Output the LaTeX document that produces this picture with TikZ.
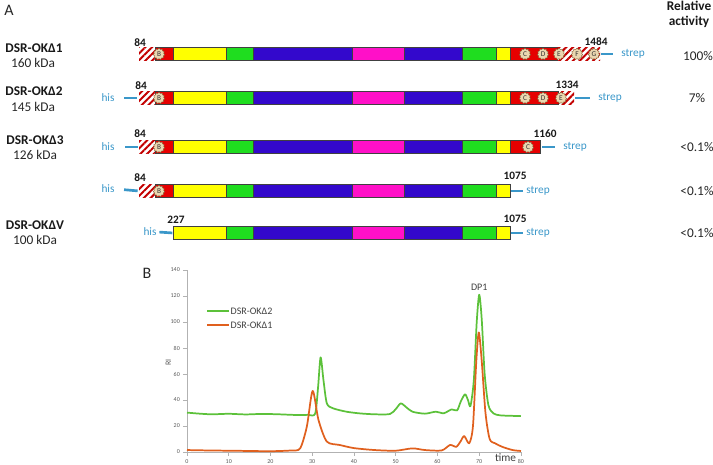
\documentclass[tikz,border=0pt]{standalone}
\usepackage{fontspec}
\setmainfont{Carlito}
\usetikzlibrary{patterns.meta,shapes.geometric,calc}
\definecolor{dred}{HTML}{E60000}
\definecolor{dyel}{HTML}{FFFF00}
\definecolor{dgrn}{HTML}{1FDD1F}
\definecolor{dblu}{HTML}{3308CC}
\definecolor{dmag}{HTML}{FF10C8}
\definecolor{tagblue}{HTML}{3A97C9}
\definecolor{cogfill}{HTML}{EAD7B0}
\definecolor{crvgrn}{HTML}{5CC13A}
\definecolor{crvorg}{HTML}{E0601E}
\tikzset{
  seg/.style   ={draw=black!75,line width=.5pt},
  hatch/.style ={pattern={Lines[angle=45,distance=3.6pt,line width=1.5pt]},
                 pattern color=dred!85!black},
  cog/.style   ={star,star points=11,star point ratio=1.22,minimum size=8.6pt,
                 inner sep=0pt,fill=cogfill,draw=brown!70!black,line width=.3pt,
                 font=\fontsize{5.5}{6}\selectfont,text=black!80},
  tag/.style   ={draw=tagblue,line width=2pt},
  tagtxt/.style={text=tagblue,font=\fontsize{8.5}{10}\selectfont,inner sep=1pt},
  cname/.style ={font=\fontsize{10}{12}\selectfont\bfseries,text=black!90},
  kda/.style   ={font=\fontsize{10}{12}\selectfont,text=black!85},
  posnum/.style={font=\fontsize{8.5}{10}\selectfont\bfseries,text=black!90,inner sep=1pt},
  act/.style   ={font=\fontsize{10}{12}\selectfont,text=black!85},
  panel/.style ={font=\fontsize{12}{14}\selectfont,text=black!85},
  tick/.style  ={font=\fontsize{4.5}{5}\selectfont,text=black!65,inner sep=.5pt},
  leg/.style   ={font=\fontsize{7.5}{9}\selectfont,text=black!75,inner sep=1pt},
  axis/.style  ={draw=black!30,line width=.4pt},
  cg/.style    ={draw=crvgrn,line width=1.3pt,line join=round},
  co/.style    ={draw=crvorg,line width=1.3pt,line join=round},
}

\begin{document}
\begin{tikzpicture}[x=0.75pt,y=-0.75pt]
  \useasboundingbox (0,0) rectangle (713,464);

  % panel A
  \node[panel] (pA) at (9,10) {A};
  \node[cname,align=center,font=\fontsize{10}{11.3}\selectfont\bfseries] (ra) at (689,14) {Relative\\activity};

  \node[cname] (n1) at (34,48) {DSR-OKΔ1};  \node[kda] (k1) at (33,63) {160 kDa};
  \node[cname] (n2) at (34,91) {DSR-OKΔ2};  \node[kda] (k2) at (33,107) {145 kDa};
  \node[cname] (n3) at (35,140) {DSR-OKΔ3}; \node[kda] (k3) at (35,155) {126 kDa};
  \node[cname] (n5) at (35,225) {DSR-OKΔV}; \node[kda] (k5) at (35,240) {100 kDa};

  % common catalytic core
  \foreach \yy in {54,98,147,191,233}
    \foreach \a/\b/\c in {173/226/dyel,226/253/dgrn,253/352/dblu,352/404/dmag,
                          404/462/dblu,462/496/dgrn,496/510/dyel}
      \draw[seg,fill=\c] (\a,\yy-6.5) rectangle (\b,\yy+6.5);

  % N-terminal part
  \foreach \yy [count=\i] in {54,98,147,191} {
    \fill[hatch] (139,\yy-6.5) rectangle (155,\yy+6.5);
    \draw[seg,fill=dred] (155,\yy-6.5) rectangle (173,\yy+6.5);
    \node[cog] (b\i) at (159,\yy) {B};
    \coordinate (l\i) at (139,\yy);
  }
  \coordinate (l5) at (173,233);

  % C-terminal parts
  \draw[seg,fill=dred] (510,47.5) rectangle (557,60.5);
  \fill[hatch] (557,47.5) rectangle (600,60.5);
  \draw[seg,fill=dred] (510,91.5) rectangle (558,104.5);
  \fill[hatch] (558,91.5) rectangle (574,104.5);
  \draw[seg,fill=dred] (510,140.5) rectangle (540,153.5);
  \node[cog] (c1) at (525,54) {C}; \node[cog] (d1) at (543,54) {D};
  \node[cog] (e1) at (559,54) {E}; \node[cog] (f1) at (577,54) {F};
  \node[cog] (g1) at (594,54) {G};
  \node[cog] (c2) at (525,98) {C}; \node[cog] (d2) at (543,98) {D};
  \node[cog] (e2) at (561,98) {E};
  \node[cog] (c3) at (528,147) {C};
  \coordinate (r1) at (600,54);  \coordinate (r2) at (574,98);
  \coordinate (r3) at (540,147); \coordinate (r4) at (510,191);
  \coordinate (r5) at (510,233);

  % positions
  \node[posnum] (p1) at (140,43) {84};   \node[posnum] (q1) at (596,42) {1484};
  \node[posnum] (p2) at (141,86) {84};   \node[posnum] (q2) at (567,85) {1334};
  \node[posnum] (p3) at (140,134) {84};  \node[posnum] (q3) at (545,134) {1160};
  \node[posnum] (p4) at (140,178) {84};  \node[posnum] (q4) at (515,176) {1075};
  \node[posnum] (p5) at (176,220) {227}; \node[posnum] (q5) at (515,219) {1075};

  % tags
  \node[tagtxt] (h2) at (108,98) {his};
  \node[tagtxt] (h3) at (108,147) {his};
  \node[tagtxt] (h4) at (108,189) {his};
  \node[tagtxt] (h5) at (150,232) {his};
  \draw[tag,shorten <=6pt,shorten >=1.5pt] (h2.east) -- (l2);
  \draw[tag,shorten <=7pt,shorten >=1pt] (h3.east) -- (l3);
  \draw[tag,shorten <=6pt,shorten >=1pt] (h4.east) -- (l4);
  \draw[tag,shorten <=1pt,shorten >=.5pt] (h5.east) -- (l5);
  \node[tagtxt] (s1) at (633,54) {strep};
  \node[tagtxt] (s2) at (610,98) {strep};
  \node[tagtxt] (s3) at (575,147) {strep};
  \node[tagtxt] (s4) at (538,191) {strep};
  \node[tagtxt] (s5) at (538,233) {strep};
  \draw[tag,shorten <=1pt,shorten >=5pt] (r1) -- (s1.west);
  \draw[tag,shorten <=1pt,shorten >=5pt] (r2) -- (s2.west);
  \draw[tag,shorten <=1.5pt,shorten >=5pt] (r3) -- (s3.west);
  \draw[tag,shorten <=.5pt,shorten >=1.5pt] (r4) -- (s4.west);
  \draw[tag,shorten <=.5pt,shorten >=1.5pt] (r5) -- (s5.west);

  % relative activity
  \node[act] (a1) at (698,56) {100\%};
  \node[act] (a2) at (697,98) {7\%};
  \node[act] (a3) at (697,147) {<0.1\%};
  \node[act] (a4) at (697,191) {<0.1\%};
  \node[act] (a5) at (697,233) {<0.1\%};

  % panel B
  \node[panel] (pB) at (147,273) {B};
  \begin{scope}[shift={(187,452)},x=3.131pt,y=0.975pt]
    \draw[axis] (0,0) -- (0,140);
    \draw[axis] (0,0) -- (80,0);
    \foreach \v in {0,20,...,140} {
      \draw[axis] (-1,\v) -- (0,\v);
      \node[tick,anchor=east] (yt\v) at (-1.5,\v) {\v};
    }
    \foreach \t in {0,10,...,80} {
      \draw[axis] (\t,0) -- (\t,-3);
      \node[tick] (xt\t) at (\t,-7.2) {\t};
    }
    \node[tick,rotate=90,font=\fontsize{6}{6}\selectfont] (ri) at (-4.5,69) {RI};
    \node[leg,font=\fontsize{8.5}{10}\selectfont,fill=white,inner sep=.3pt,anchor=base] (time) at (76.3,-7.4) {time};
    \node[leg] (dp1) at (70,126.5) {DP1};
    \draw[cg] plot[smooth,tension=.45] coordinates {
      (0,30.3)(3,29.5)(6,29)(10,29.4)(14,28.9)(18,29.3)(22,29)(26,28.5)(29,28.6)
      (30.7,29.5)(31.4,50)(32,72.8)(32.7,55)(33.5,37.4)(35,33.6)(38.2,31)(41.4,29.7)
      (45,29)(48.6,29.2)(50,33)(51.2,37.4)(52.5,34.5)(54,31)(57,29.5)(59.6,31)
      (61.5,29.8)(63.4,32.8)(64.7,32)(65.6,39)(66.6,44.4)(67.3,40)(67.9,35.4)
      (68.7,55)(69.4,100)(70,121)(70.6,102)(71.3,60)(72.2,36)(73.4,29.7)(75,28.2)
      (78,27.8)(80,27.6)};
    \draw[co] plot[smooth,tension=.45] coordinates {
      (0,1.5)(5,1.2)(10,1)(15,0.8)(20,0.6)(25,1.2)(27.1,2.8)(28.7,19.5)(30.1,47)
      (31.5,24.6)(33.5,8)(36.6,5.4)(40,3)(45,1.5)(50,1)(54,2.8)(57,1.5)(61,1.2)
      (63,5.4)(64.5,4)(65.5,8)(66.4,12.3)(67.6,6.7)(68.5,20)(69.3,70)(69.9,92)
      (70.6,70)(71.5,30)(72.5,10)(73.8,6.7)(75.5,4)(78,1.5)(80,0.8)};
  \end{scope}

  % legend
  \node[leg,anchor=west] (lg2) at (229,311) {DSR-OKΔ2};
  \node[leg,anchor=west] (lg1) at (229,325) {DSR-OKΔ1};
  \draw[cg] ($(lg2.west)+(-22,0)$) -- (lg2.west);
  \draw[co] ($(lg1.west)+(-22,0)$) -- (lg1.west);
\end{tikzpicture}
\end{document}
